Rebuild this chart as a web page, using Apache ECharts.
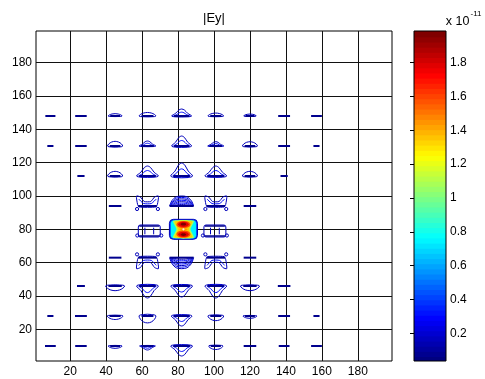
<!DOCTYPE html>
<html>
<head>
<meta charset="utf-8">
<script src="https://cdn.jsdelivr.net/npm/echarts@6/dist/echarts.min.js"></script>
<style>
  html, body { margin: 0; padding: 0; background: #fff; }
  #chart { width: 485px; height: 379px; }
</style>
</head>
<body>
<div id="chart"></div>
<script>
// Axis ticks (grid index units) and colour-bar ticks (x 1e-11)
const xTicks = [20, 40, 60, 80, 100, 120, 140, 160, 180];
const yTicks = [20, 40, 60, 80, 100, 120, 140, 160, 180];
const cbarTicks = [0.2, 0.4, 0.6, 0.8, 1, 1.2, 1.4, 1.6, 1.8];
const cbarRange = [0.036, 1.987];

// Contour groups along each lattice row: [x, half width, rise (+ up / - down), form]
const row148 = [[9, 2.8, 0, 'dash'], [26, 3.2, 0, 'dash'], [45, 3.9, 1.2, 'lens'], [63, 4.7, 1.8, 'lens'],
                [82, 5.6, 4.2, 'dome'], [101, 4.4, 1.5, 'lens'], [120, 3.5, 1.0, 'lens'], [139, 3.3, 0, 'dash'], [157, 3.0, 0, 'dash']];
const row130 = [[9, 1.7, 0, 'dash'], [26, 3.2, 0, 'dash'], [45, 4.2, 2.4, 'lens'], [63, 4.7, 3.0, 'dome'],
                [82, 5.6, 6.0, 'dome'], [101, 4.5, 2.6, 'dome'], [120, 4.2, 2.2, 'lens'], [139, 3.3, 0, 'dash'], [157, 1.7, 0, 'dash']];
const row112 = [[26, 2.0, 0, 'dash'], [45, 4.2, 2.4, 'lens'], [63, 6.1, 6.0, 'dome'], [82, 6.1, 7.8, 'dome'],
                [101, 6.1, 6.0, 'dome'], [120, 4.2, 2.4, 'lens'], [139, 2.0, 0, 'dash']];
const row94  = [[45, 3.5, 0, 'dash'], [63, 6.1, 6.0, 'tie'], [82, 6.7, 6.0, 'dense'], [101, 6.1, 6.0, 'tie'], [120, 3.5, 0, 'dash']];
const row79  = [[64, 6.1, 3.6, 'box'], [100.5, 6.1, 3.6, 'box']];
const row63  = [[45, 3.5, 0, 'dash'], [63, 6.1, -6.6, 'tie'], [82, 6.7, -6.6, 'dense'], [101, 6.1, -6.6, 'tie'], [120, 3.5, 0, 'dash']];
const row46  = [[26, 2.2, 0, 'dash'], [45, 5.3, -2.4, 'lens'], [63, 6.1, -7.2, 'dome'], [82, 6.1, -6.6, 'dome'],
                [101, 6.1, -7.2, 'dome'], [120, 5.3, -2.4, 'lens'], [139, 3.5, 0, 'dash']];
const row28  = [[9, 1.7, 0, 'dash'], [26, 3.3, 0, 'dash'], [45, 4.4, -1.8, 'lens'], [63, 4.7, -3.6, 'lens'],
                [82, 5.8, -6.0, 'dome'], [101, 4.4, -2.4, 'lens'], [120, 3.9, -1.2, 'lens'], [139, 3.3, 0, 'dash'], [157, 1.7, 0, 'dash']];
const row10  = [[9, 3.0, 0, 'dash'], [26, 3.2, 0, 'dash'], [45, 3.9, -1.2, 'lens'], [63, 4.4, -2.4, 'dome'],
                [82, 6.1, -6.0, 'dome'], [101, 4.0, -1.8, 'lens'], [120, 3.5, 0, 'dash'], [139, 3.0, 0, 'dash'], [157, 3.0, 0, 'dash']];
const rowLevels = [148, 130, 112, 94, 79, 63, 46, 28, 10];
const rowGroups = [row148, row130, row112, row94, row79, row63, row46, row28, row10];

// Field maximum: [x, y, half width, half height, peak |Ey| (x 1e-11)]
const peakSpot = [83, 80, 7.8, 6.0, 1.99];

const FONT = '"Liberation Sans", Arial, Helvetica, sans-serif';
const formCode = { dash: 0, lens: 1, dome: 2, dense: 3, tie: 4, box: 5 };

const contourData = [];
rowGroups.forEach((items, i) => {
  items.forEach(([x, hw, rise, form]) => contourData.push([x, rowLevels[i], hw, rise, formCode[form]]));
});

// MATLAB-style jet colormap
function jet(t) {
  t = Math.max(0, Math.min(1, t));
  const c = v => Math.round(255 * Math.max(0, Math.min(1, v)));
  return 'rgb(' + c(1.5 - Math.abs(4 * t - 3)) + ',' + c(1.5 - Math.abs(4 * t - 2)) + ',' + c(1.5 - Math.abs(4 * t - 1)) + ')';
}
const levelColor = v => jet((v - cbarRange[0]) / (cbarRange[1] - cbarRange[0]));

const CORE = '#00008e';
const LINE = levelColor(0.15);
const LINE2 = levelColor(0.3);

function pts(cx, cy, w, d, list) {
  return list.map(p => [cx + p[0] * w, cy + p[1] * d]);
}

const domeShape = [[-1, 0], [-0.6, 0.38], [-0.28, 0.85], [0, 1], [0.28, 0.85], [0.6, 0.38], [1, 0], [0.6, -0.12], [-0.6, -0.12]];
const archShape = [[-1, 0], [-0.8, 0.55], [-0.45, 0.92], [0, 1], [0.45, 0.92], [0.8, 0.55], [1, 0]];
const lensShape = [[-1, 0], [-0.45, 1], [0.45, 1], [1, 0], [0.45, -0.25], [-0.45, -0.25]];

function renderContour(params, api) {
  const c = api.coord([api.value(0), api.value(1)]);
  const u = api.size([1, 1]);
  const w = api.value(2) * u[0];
  const d = -api.value(3) * u[1];
  const form = api.value(4);
  const cx = c[0], cy = c[1];
  const kids = [];
  const line = (x1, y1, x2, y2, color, lw) =>
    kids.push({ type: 'line', shape: { x1, y1, x2, y2 }, style: { stroke: color, lineWidth: lw } });
  const poly = (p, color, lw, closed, smooth) =>
    kids.push({ type: closed ? 'polygon' : 'polyline', shape: { points: p, smooth: smooth },
                style: { stroke: color, fill: null, lineWidth: lw } });
  const ring = (x, y, r) =>
    kids.push({ type: 'circle', shape: { cx: x, cy: y, r: r }, style: { stroke: LINE, fill: null, lineWidth: 1 } });

  if (form === 0) {
    line(cx - w, cy, cx + w, cy, CORE, 2);
  } else if (form === 1) {
    poly(pts(cx, cy, w, d, lensShape), LINE, 1, true, 0.4);
    line(cx - 0.7 * w, cy, cx + 0.7 * w, cy, CORE, 2);
  } else if (form === 2) {
    poly(pts(cx, cy, w, d, domeShape), LINE, 1, true, 0.3);
    poly(pts(cx, cy, 0.8 * w, 0.55 * d, domeShape), LINE2, 1, true, 0.3);
    line(cx - 0.75 * w, cy, cx + 0.75 * w, cy, CORE, 2);
  } else if (form === 3) {
    const N = 7;
    for (let k = 0; k < N; k++) {
      const f = 1 - k / N;
      poly(pts(cx, cy, w * (1 - 0.05 * k), d * f, archShape), k % 2 ? LINE2 : LINE, 1, false, 0.3);
    }
    line(cx - w, cy, cx + w, cy, CORE, 2);
  } else if (form === 4) {
    poly(pts(cx, cy, w, d, [[-1, 1], [-0.65, 0.9], [-0.3, 0.45], [0.3, 0.45], [0.65, 0.9], [1, 1],
                            [0.9, 0.15], [0.75, -0.1], [-0.75, -0.1], [-0.9, 0.15]]), LINE, 1, true, 0.2);
    poly(pts(cx, cy, w, d, [[-0.8, 0.7], [-0.35, 0.25], [0.35, 0.25], [0.8, 0.7]]), LINE2, 1, false, 0.2);
    line(cx - 0.85 * w, cy, cx + 0.85 * w, cy, CORE, 2);
    ring(cx - 0.95 * w, cy - 0.3 * d, 1.6);
    ring(cx + 0.95 * w, cy - 0.3 * d, 1.6);
  } else if (form === 5) {
    const h = Math.abs(d);
    kids.push({ type: 'rect', shape: { x: cx - w, y: cy - h, width: 2 * w, height: 2 * h, r: 2 },
                style: { stroke: LINE, fill: null, lineWidth: 1 } });
    line(cx - w + 1, cy - h + 1, cx + w - 1, cy - h + 1, CORE, 1.5);
    line(cx - w + 1, cy + h - 1, cx + w - 1, cy + h - 1, CORE, 1.5);
    line(cx - 0.4 * w, cy - 0.55 * h, cx - 0.4 * w, cy + 0.55 * h, LINE, 1);
    line(cx + 0.4 * w, cy - 0.55 * h, cx + 0.4 * w, cy + 0.55 * h, LINE, 1);
    ring(cx - w - 1, cy + 0.75 * h, 1.6);
    ring(cx + w + 1, cy + 0.75 * h, 1.6);
  }
  return { type: 'group', children: kids };
}

function renderPeak(params, api) {
  const c = api.coord([api.value(0), api.value(1)]);
  const u = api.size([1, 1]);
  const w = api.value(2) * u[0];
  const h = api.value(3) * u[1];
  const top = api.value(4);
  const cx = c[0], cy = c[1];
  const kids = [];
  const fillPoly = (list, v) => kids.push({ type: 'polygon', shape: { points: pts(cx, cy, w, h, list), smooth: 0.2 },
                                            style: { fill: levelColor(v) } });
  const ell = (x, y, rx, ry, v) => kids.push({ type: 'ellipse', shape: { cx: x, cy: y, rx: rx, ry: ry },
                                               style: { fill: levelColor(v) } });
  kids.push({ type: 'rect', shape: { x: cx - w, y: cy - h, width: 2 * w, height: 2 * h, r: 4 },
              style: { fill: levelColor(0.45), stroke: levelColor(0.15), lineWidth: 1 } });
  kids.push({ type: 'rect', shape: { x: cx - w + 1.5, y: cy - h + 1.2, width: 2 * w - 3, height: 2 * h - 2.4, r: 3 },
              style: { fill: levelColor(0.75) } });
  fillPoly([[-0.74, -0.85], [0.74, -0.85], [0.5, 0], [0.74, 0.85], [-0.74, 0.85], [-0.5, 0]], 1.1);
  fillPoly([[-0.62, -0.78], [0.62, -0.78], [0.4, 0], [0.62, 0.78], [-0.62, 0.78], [-0.4, 0]], 1.35);
  [-1, 1].forEach(s => {
    ell(cx, cy + s * 0.48 * h, 0.5 * w, 0.36 * h, 1.6);
    ell(cx, cy + s * 0.5 * h, 0.38 * w, 0.27 * h, top * 0.9);
    ell(cx, cy + s * 0.52 * h, 0.2 * w, 0.14 * h, top);
  });
  ell(cx, cy, 0.28 * w, 0.1 * h, 1.45);
  kids.push({ type: 'circle', shape: { cx: cx, cy: cy, r: 1.1 }, style: { fill: '#fff2dc' } });
  return { type: 'group', children: kids };
}

// Colour bar: 64 colormap bands spanning the data range
const cbarBands = Array.from({ length: 64 }, (_, i) => [i]);
function renderBand(params, api) {
  const i = api.value(0);
  const step = (cbarRange[1] - cbarRange[0]) / 64;
  const lo = cbarRange[0] + i * step;
  const p0 = api.coord([0, lo]);
  const p1 = api.coord([1, lo + step]);
  return { type: 'rect', shape: { x: p0[0], y: p1[1], width: p1[0] - p0[0], height: p0[1] - p1[1] + (i ? 1.2 : 0) },
           style: { fill: jet(i / 63) } };
}

const axisText = { fontSize: 12, color: '#000', fontFamily: FONT };

const chart = echarts.init(document.getElementById('chart'));
chart.setOption({
  animation: false,
  backgroundColor: '#fff',
  grid: [
    { left: 36, top: 31, width: 356, height: 330, show: true, borderColor: '#000', borderWidth: 1, backgroundColor: '#fff' },
    { left: 414, top: 31, width: 32, height: 330, show: false }
  ],
  xAxis: [
    { gridIndex: 0, type: 'value', min: 1, max: 199,
      axisLine: { show: false },
      axisTick: { show: false, customValues: xTicks },
      axisLabel: Object.assign({ customValues: xTicks, margin: 5 }, axisText),
      splitLine: { show: true, lineStyle: { color: '#111', width: 1 } } },
    { gridIndex: 1, type: 'value', min: 0, max: 1, show: false }
  ],
  yAxis: [
    { gridIndex: 0, type: 'value', min: 1, max: 199,
      axisLine: { show: false },
      axisTick: { show: false, customValues: yTicks },
      axisLabel: Object.assign({ customValues: yTicks, margin: 4 }, axisText),
      splitLine: { show: true, lineStyle: { color: '#111', width: 1 } } },
    { gridIndex: 1, type: 'value', position: 'right', min: cbarRange[0], max: cbarRange[1],
      axisLine: { show: false },
      axisTick: { show: true, inside: true, length: 4, customValues: cbarTicks, lineStyle: { color: '#000' } },
      axisLabel: Object.assign({ customValues: cbarTicks, margin: 4, formatter: v => String(+(+v).toFixed(1)) }, axisText),
      splitLine: { show: false } }
  ],
  series: [
    { type: 'custom', xAxisIndex: 0, yAxisIndex: 0, renderItem: renderContour, data: contourData, clip: true, silent: true, z: 3 },
    { type: 'custom', xAxisIndex: 0, yAxisIndex: 0, renderItem: renderPeak, data: [peakSpot], clip: true, silent: true, z: 4 },
    { type: 'custom', xAxisIndex: 1, yAxisIndex: 1, renderItem: renderBand, data: cbarBands, silent: true, z: 2 }
  ],
  graphic: [
    { type: 'rect', shape: { x: 414, y: 31, width: 32, height: 330 }, style: { fill: null, stroke: '#000', lineWidth: 1 }, z: 10 },
    { type: 'text', x: 214, y: 18, style: { text: '|Ey|', font: '13px ' + FONT, fill: '#000', textAlign: 'center', textVerticalAlign: 'middle' } },
    { type: 'text', x: 469.5, y: 21.5, style: { text: 'x 10', font: '12.5px ' + FONT, fill: '#000', textAlign: 'right', textVerticalAlign: 'middle' } },
    { type: 'text', x: 470.5, y: 14, style: { text: '-11', font: '8px ' + FONT, fill: '#000', textAlign: 'left', textVerticalAlign: 'middle' } }
  ]
});
</script>
</body>
</html>
